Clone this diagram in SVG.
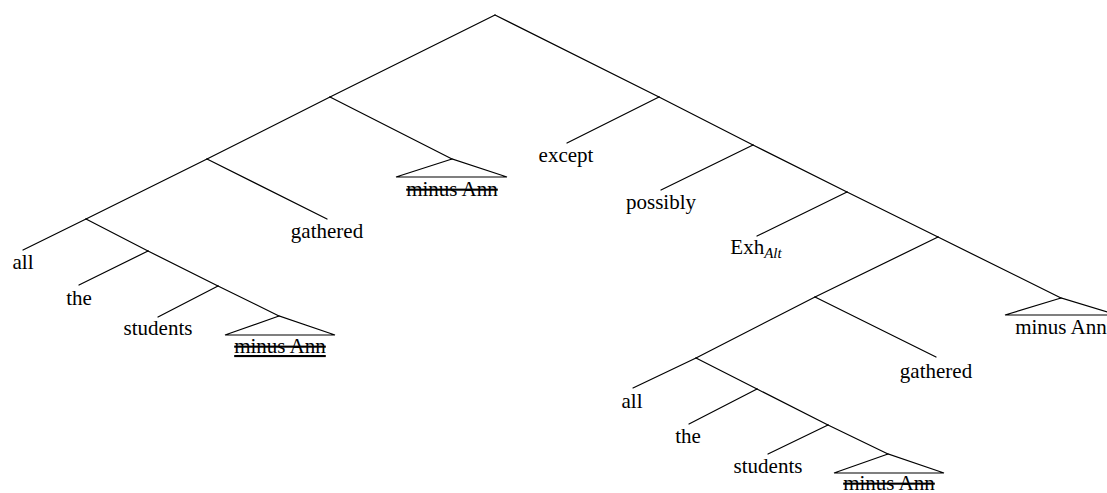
<svg xmlns="http://www.w3.org/2000/svg" width="1107" height="493" viewBox="0 0 1107 493">
<style>
.e{stroke:#000;stroke-width:1.2;fill:none;stroke-linecap:round}
.t{font-family:"Liberation Serif","Times New Roman",serif;font-size:21px;fill:#000;text-anchor:middle}
.s{text-decoration:line-through}
.su{text-decoration:underline line-through}
.sub{font-style:italic;font-size:15px}
</style>
<rect width="1107" height="493" fill="#fff"/>
<g id="connectors" class="e">
<line x1="495" y1="15" x2="330" y2="97"/>
<line x1="495" y1="15" x2="659" y2="97"/>
<line x1="330" y1="97" x2="207" y2="159"/>
<line x1="330" y1="97" x2="452" y2="159"/>
<line x1="207" y1="159" x2="86" y2="219"/>
<line x1="207" y1="159" x2="327" y2="219"/>
<line x1="86" y1="219" x2="23" y2="250"/>
<line x1="86" y1="219" x2="148" y2="251"/>
<line x1="148" y1="251" x2="79" y2="285"/>
<line x1="148" y1="251" x2="218" y2="286"/>
<line x1="218" y1="286" x2="158" y2="317"/>
<line x1="218" y1="286" x2="279" y2="316"/>
<line x1="659" y1="97" x2="567" y2="143"/>
<line x1="659" y1="97" x2="753" y2="145"/>
<line x1="753" y1="145" x2="661" y2="190"/>
<line x1="753" y1="145" x2="847" y2="192"/>
<line x1="847" y1="192" x2="757" y2="236"/>
<line x1="847" y1="192" x2="938" y2="237"/>
<line x1="938" y1="237" x2="815" y2="297"/>
<line x1="938" y1="237" x2="1061" y2="298"/>
<line x1="815" y1="297" x2="696" y2="358"/>
<line x1="815" y1="297" x2="936" y2="357"/>
<line x1="696" y1="358" x2="633" y2="388"/>
<line x1="696" y1="358" x2="757" y2="389"/>
<line x1="757" y1="389" x2="689" y2="424"/>
<line x1="757" y1="389" x2="828" y2="425"/>
<line x1="828" y1="425" x2="768" y2="454"/>
<line x1="828" y1="425" x2="888" y2="454"/>
</g>
<g id="n-minus1">
<polygon class="e" points="452,159 396,177 507,177"/>
<text class="t s" x="452" y="196">minus Ann</text>
</g>
<g id="n-gathered1"><text class="t" x="327" y="238">gathered</text></g>
<g id="n-all1"><text class="t" x="23" y="269">all</text></g>
<g id="n-the1"><text class="t" x="79" y="305">the</text></g>
<g id="n-students1"><text class="t" x="158" y="335">students</text></g>
<g id="n-minus2">
<polygon class="e" points="279,316 225,335 335,335"/>
<text class="t su" x="280" y="353">minus Ann</text>
</g>
<g id="n-except"><text class="t" x="566" y="162">except</text></g>
<g id="n-possibly"><text class="t" x="661" y="209">possibly</text></g>
<g id="n-exh"><text class="t" x="756" y="254">Exh<tspan class="sub" dy="4">Alt</tspan></text></g>
<g id="n-minus3">
<polygon class="e" points="1061,298 1005,315 1117,315"/>
<text class="t" x="1061" y="334">minus Ann</text>
</g>
<g id="n-gathered2"><text class="t" x="936" y="378">gathered</text></g>
<g id="n-all2"><text class="t" x="632" y="408">all</text></g>
<g id="n-the2"><text class="t" x="688" y="443">the</text></g>
<g id="n-students2"><text class="t" x="768" y="473">students</text></g>
<g id="n-minus4">
<polygon class="e" points="888,454 834,473 944,473"/>
<text class="t s" x="889" y="490">minus Ann</text>
</g>
</svg>
